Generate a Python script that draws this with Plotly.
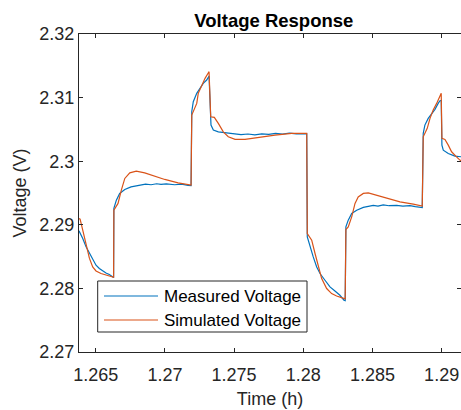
import plotly.graph_objects as go

# ---- data (time in h, voltage in V) ----
t_meas = [1.26379, 1.26387, 1.26406, 1.26430, 1.26454, 1.26478, 1.26502, 1.26526, 1.26551,
          1.26574, 1.26598, 1.26623, 1.26629,
          1.26631, 1.26649, 1.26673, 1.26710, 1.26755, 1.26790, 1.26827, 1.26860, 1.26900,
          1.26940, 1.26972, 1.27010, 1.27071, 1.27120, 1.27167, 1.27189,
          1.27194, 1.27205, 1.27230, 1.27254, 1.27277, 1.27302, 1.27314, 1.27319,
          1.27333, 1.27350, 1.27386, 1.27434, 1.27494, 1.27550, 1.27600, 1.27650, 1.27700,
          1.27750, 1.27800, 1.27850, 1.27900, 1.27950, 1.28012, 1.28025,
          1.28029, 1.28048, 1.28072, 1.28097, 1.28121, 1.28157, 1.28193, 1.28229, 1.28265,
          1.28294, 1.28303,
          1.28308, 1.28325, 1.28350, 1.28386, 1.28434, 1.28470, 1.28506, 1.28540, 1.28578,
          1.28620, 1.28675, 1.28720, 1.28771, 1.28810, 1.28843, 1.28860,
          1.28867, 1.28879, 1.28903, 1.28928, 1.28952, 1.28975, 1.28988, 1.28997,
          1.29002, 1.29012, 1.29048, 1.29096, 1.29132, 1.29160]
v_meas = [2.28905, 2.28873, 2.28785, 2.28653, 2.28549, 2.28443, 2.28365, 2.28313, 2.28275,
          2.28243, 2.28218, 2.28180, 2.28171,
          2.29257, 2.29387, 2.29493, 2.29556, 2.29597, 2.29610, 2.29624, 2.29640, 2.29630,
          2.29645, 2.29635, 2.29642, 2.29630, 2.29638, 2.29620, 2.29618,
          2.30777, 2.30935, 2.31067, 2.31145, 2.31224, 2.31276, 2.31328, 2.31340,
          2.30568, 2.30489, 2.30462, 2.30447, 2.30426, 2.30418, 2.30428, 2.30415, 2.30430,
          2.30422, 2.30438, 2.30428, 2.30440, 2.30430, 2.30432, 2.30430,
          2.28810, 2.28653, 2.28495, 2.28338, 2.28234, 2.28128, 2.28023, 2.27960, 2.27892,
          2.27814, 2.27808,
          2.28967, 2.29073, 2.29178, 2.29230, 2.29273, 2.29290, 2.29304, 2.29295, 2.29312,
          2.29300, 2.29306, 2.29295, 2.29300, 2.29285, 2.29273, 2.29270,
          2.30437, 2.30568, 2.30673, 2.30752, 2.30815, 2.30909, 2.30950, 2.30955,
          2.30253, 2.30174, 2.30122, 2.30080, 2.30069, 2.30065]

t_sim = [1.26379, 1.26387, 1.26406, 1.26430, 1.26454, 1.26478, 1.26502, 1.26538, 1.26574,
         1.26611, 1.26623, 1.26629,
         1.26631, 1.26661, 1.26685, 1.26710, 1.26746, 1.26793, 1.26854, 1.26926, 1.26999,
         1.27095, 1.27179, 1.27189,
         1.27194, 1.27205, 1.27230, 1.27241, 1.27266, 1.27290, 1.27314, 1.27319,
         1.27331, 1.27357, 1.27386, 1.27422, 1.27458, 1.27507, 1.27579, 1.27675, 1.27796,
         1.27916, 1.28012, 1.28025,
         1.28029, 1.28036, 1.28061, 1.28085, 1.28108, 1.28133, 1.28169, 1.28205, 1.28241,
         1.28277, 1.28294, 1.28303,
         1.28308, 1.28325, 1.28350, 1.28374, 1.28397, 1.28434, 1.28470, 1.28530, 1.28603,
         1.28699, 1.28795, 1.28856, 1.28860,
         1.28867, 1.28879, 1.28896, 1.28916, 1.28939, 1.28964, 1.28988, 1.28997,
         1.29002, 1.29024, 1.29048, 1.29072, 1.29108, 1.29132, 1.29160]
v_sim = [2.29100, 2.29088, 2.28915, 2.28679, 2.28475, 2.28338, 2.28275, 2.28234, 2.28207,
         2.28191, 2.28180, 2.28175,
         2.29230, 2.29336, 2.29545, 2.29729, 2.29817, 2.29844, 2.29817, 2.29765, 2.29713,
         2.29660, 2.29628, 2.29625,
         2.30725, 2.30777, 2.30909, 2.31067, 2.31197, 2.31303, 2.31391, 2.31407,
         2.30698, 2.30689, 2.30595, 2.30462, 2.30384, 2.30343, 2.30343, 2.30374, 2.30410,
         2.30437, 2.30437, 2.30437,
         2.28863, 2.28837, 2.28758, 2.28549, 2.28338, 2.28155, 2.27998, 2.27919, 2.27881,
         2.27856, 2.27840, 2.27835,
         2.28926, 2.28967, 2.29125, 2.29336, 2.29439, 2.29493, 2.29502, 2.29466, 2.29414,
         2.29361, 2.29325, 2.29298, 2.29295,
         2.30384, 2.30437, 2.30516, 2.30673, 2.30804, 2.30909, 2.31040, 2.31067,
         2.30359, 2.30343, 2.30253, 2.30148, 2.30069, 2.30017, 2.29990]

series_names = ["Measured Voltage", "Simulated Voltage"]
series_colors = ["#0072BD", "#D95319"]

x_ticks = [1.265, 1.27, 1.275, 1.28, 1.285, 1.29]
x_tick_labels = ["1.265", "1.27", "1.275", "1.28", "1.285", "1.29"]
y_ticks = [2.27, 2.28, 2.29, 2.30, 2.31, 2.32]
y_tick_labels = ["2.27", "2.28", "2.29", "2.3", "2.31", "2.32"]

FONT = "Liberation Sans, Arial, Helvetica, sans-serif"
AX = "#262626"

# plot area in pixels (for placing the hand-drawn legend box)
L, R, T, B = 79, 461, 34, 352
def px(x):
    return (x - L) / (R - L)
def py(y):
    return (B - y) / (B - T)

fig = go.Figure()
fig.add_trace(go.Scatter(x=t_meas, y=v_meas, mode="lines", name=series_names[0],
                         line=dict(color=series_colors[0], width=1.2), showlegend=False))
fig.add_trace(go.Scatter(x=t_sim, y=v_sim, mode="lines", name=series_names[1],
                         line=dict(color=series_colors[1], width=1.2), showlegend=False))
# helper (invisible) trace for right-hand mirror ticks
fig.add_trace(go.Scatter(x=[t_meas[0]], y=[v_meas[0]], yaxis="y2", mode="markers",
                         marker=dict(opacity=0), showlegend=False, hoverinfo="skip"))

# legend (MATLAB style) drawn with shapes + annotations
shapes = [dict(type="rect", xref="paper", yref="paper", x0=px(97.7), x1=px(307),
               y0=py(332), y1=py(281), line=dict(color=AX, width=1), fillcolor="white",
               layer="above")]
annotations = []
for i, (name, col) in enumerate(zip(series_names, series_colors)):
    yy = 296 + 24 * i
    shapes.append(dict(type="line", xref="paper", yref="paper", x0=px(104), x1=px(158),
                       y0=py(yy), y1=py(yy), line=dict(color=col, width=1.2), layer="above"))
    annotations.append(dict(text=name, xref="paper", yref="paper", x=px(162), y=py(yy),
                            xanchor="left", yanchor="middle", showarrow=False,
                            font=dict(family=FONT, size=17, color="#000000")))

fig.update_layout(
    width=461, height=410,
    margin=dict(l=L, r=0, t=T, b=410 - B),
    paper_bgcolor="white", plot_bgcolor="white",
    font=dict(family=FONT, size=18, color=AX),
    title=dict(text="<b>Voltage Response</b>", xref="container", x=0.594, xanchor="center",
               yref="container", y=1 - 21 / 410, yanchor="middle",
               font=dict(family=FONT, size=18.5, color="#000000")),
    xaxis=dict(range=[1.26379, 1.29140], tickvals=x_ticks, ticktext=x_tick_labels,
               ticks="inside", ticklen=4, tickcolor=AX, showline=True, linecolor=AX,
               linewidth=1, mirror="ticks", showgrid=False, zeroline=False,
               ticklabelstandoff=6,
               title=dict(text="Time (h)", standoff=8, font=dict(size=18)),
               tickfont=dict(size=18, color=AX)),
    yaxis=dict(range=[2.27, 2.32], tickvals=y_ticks, ticktext=y_tick_labels,
               ticks="inside", ticklen=4, tickcolor=AX, showline=True, linecolor=AX,
               linewidth=1, mirror=False, showgrid=False, zeroline=False,
               title=dict(text="Voltage (V)", standoff=8, font=dict(size=18)),
               tickfont=dict(size=18, color=AX)),
    yaxis2=dict(range=[2.27, 2.32], overlaying="y", side="right", tickvals=y_ticks,
                ticks="inside", ticklen=4, tickcolor=AX, showticklabels=False,
                showline=False, showgrid=False, zeroline=False),
    shapes=shapes,
    annotations=annotations,
    showlegend=False,
)

fig.write_html("out.html")
